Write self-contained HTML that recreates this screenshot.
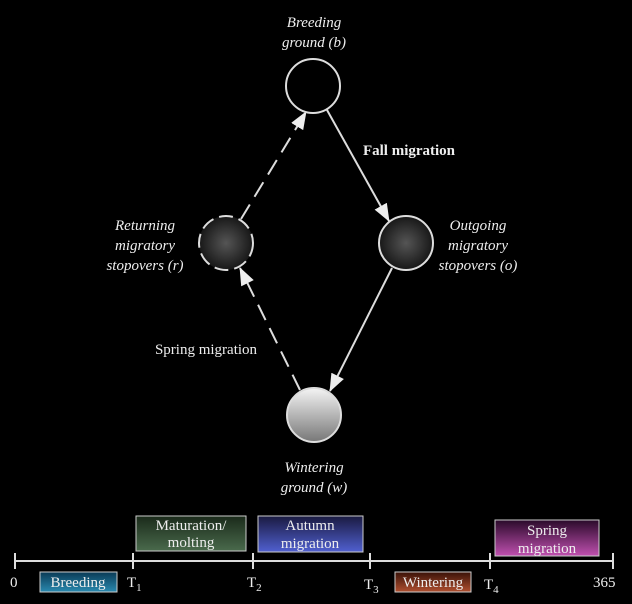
<!DOCTYPE html>
<html><head><meta charset="utf-8"><style>
html,body{margin:0;padding:0;background:#000;}
svg{display:block;font-family:"Liberation Serif",serif;}
</style></head><body>
<svg width="632" height="604" viewBox="0 0 632 604">
<defs>
<radialGradient id="dark" cx="50%" cy="50%" r="55%"><stop offset="0" stop-color="#555"/><stop offset="1" stop-color="#111"/></radialGradient>
<linearGradient id="light" x1="0" y1="0" x2="0" y2="1"><stop offset="0" stop-color="#f4f4f4"/><stop offset="1" stop-color="#777"/></linearGradient>
<linearGradient id="gMat" x1="0" y1="0" x2="0" y2="1"><stop offset="0" stop-color="#1a2a1a"/><stop offset="1" stop-color="#4a6a4c"/></linearGradient>
<linearGradient id="gAut" x1="0" y1="0" x2="0" y2="1"><stop offset="0" stop-color="#1a1a40"/><stop offset="1" stop-color="#5060d0"/></linearGradient>
<linearGradient id="gSpr" x1="0" y1="0" x2="0" y2="1"><stop offset="0" stop-color="#2a0a2a"/><stop offset="1" stop-color="#c050b0"/></linearGradient>
<linearGradient id="gBre" x1="0" y1="0" x2="0" y2="1"><stop offset="0" stop-color="#0a3a55"/><stop offset="1" stop-color="#2a8ab0"/></linearGradient>
<linearGradient id="gWin" x1="0" y1="0" x2="0" y2="1"><stop offset="0" stop-color="#3a1208"/><stop offset="1" stop-color="#b05030"/></linearGradient>
<marker id="ah" markerWidth="18" markerHeight="14" refX="17" refY="7" orient="auto" markerUnits="userSpaceOnUse"><path d="M0,0 L18,7 L0,14 z" fill="#eee"/></marker>
</defs>
<g stroke="#ddd" stroke-width="2" fill="none">
<line x1="327" y1="110" x2="389" y2="221" marker-end="url(#ah)"/>
<line x1="392" y1="268" x2="330" y2="391" marker-end="url(#ah)"/>
<line x1="300" y1="390" x2="240" y2="268" stroke-dasharray="17,9" marker-end="url(#ah)"/>
<line x1="241" y1="219" x2="306" y2="112" stroke-dasharray="17,9" marker-end="url(#ah)"/>
</g>
<circle cx="313" cy="86" r="27" fill="#000" stroke="#ddd" stroke-width="2"/>
<circle cx="226" cy="243" r="27" fill="url(#dark)" stroke="#ddd" stroke-width="2" stroke-dasharray="14,6"/>
<circle cx="406" cy="243" r="27" fill="url(#dark)" stroke="#ddd" stroke-width="2"/>
<circle cx="314" cy="415" r="27" fill="url(#light)" stroke="#ddd" stroke-width="2"/>
<g fill="#eee" font-size="15" font-style="italic" text-anchor="middle">
<text x="314" y="27">Breeding</text>
<text x="314" y="47">ground (b)</text>
<text x="145" y="230">Returning</text>
<text x="145" y="250">migratory</text>
<text x="145" y="270">stopovers (r)</text>
<text x="478" y="230">Outgoing</text>
<text x="478" y="250">migratory</text>
<text x="478" y="270">stopovers (o)</text>
<text x="314" y="472">Wintering</text>
<text x="314" y="492">ground (w)</text>
</g>
<text x="409" y="155" fill="#eee" font-size="15" font-weight="bold" text-anchor="middle">Fall migration</text>
<text x="206" y="354" fill="#eee" font-size="15" text-anchor="middle">Spring migration</text>
<g stroke="#ddd" stroke-width="2">
<line x1="15" y1="561" x2="613" y2="561"/>
<line x1="15" y1="553" x2="15" y2="569"/><line x1="133" y1="553" x2="133" y2="569"/><line x1="253" y1="553" x2="253" y2="569"/><line x1="370" y1="553" x2="370" y2="569"/><line x1="490" y1="553" x2="490" y2="569"/><line x1="613" y1="553" x2="613" y2="569"/>
</g>
<g fill="#eee" font-size="15">
<text x="10" y="587">0</text>
<text x="127" y="587">T<tspan font-size="11" dy="4">1</tspan></text>
<text x="247" y="587">T<tspan font-size="11" dy="4">2</tspan></text>
<text x="364" y="589">T<tspan font-size="11" dy="4">3</tspan></text>
<text x="484" y="589">T<tspan font-size="11" dy="4">4</tspan></text>
<text x="593" y="587">365</text>
</g>
<g stroke="#ccc" stroke-width="1" font-size="15" text-anchor="middle">
<rect x="136" y="516" width="110" height="35" fill="url(#gMat)"/>
<text x="191" y="530" fill="#eee" stroke="none">Maturation/</text><text x="191" y="547" fill="#eee" stroke="none">molting</text>
<rect x="258" y="516" width="105" height="36" fill="url(#gAut)"/>
<text x="310" y="530" fill="#eee" stroke="none">Autumn</text><text x="310" y="548" fill="#eee" stroke="none">migration</text>
<rect x="495" y="520" width="104" height="36" fill="url(#gSpr)"/>
<text x="547" y="535" fill="#eee" stroke="none">Spring</text><text x="547" y="553" fill="#eee" stroke="none">migration</text>
<rect x="40" y="572" width="77" height="20" fill="url(#gBre)"/>
<text x="78" y="587" fill="#eee" stroke="none">Breeding</text>
<rect x="395" y="572" width="76" height="20" fill="url(#gWin)"/>
<text x="433" y="587" fill="#eee" stroke="none">Wintering</text>
</g>
</svg>
</body></html>
